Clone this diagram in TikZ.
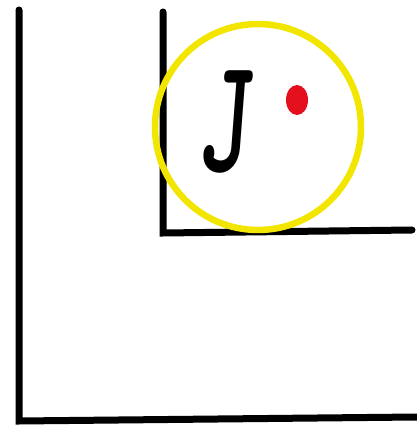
\documentclass[tikz,border=0pt]{standalone}
\usepackage{fontspec}
\usepackage{xcolor}
\usepackage{tikz}
\definecolor{ringyellow}{HTML}{F2E600}
\definecolor{dotred}{HTML}{E5101E}

\begin{document}
\begin{tikzpicture}[x=1pt, y=1pt,
  wall/.style={draw=black, line width=7pt, line cap=round, line join=miter},
  ring/.style={draw=ringyellow, line width=6.5pt},
  dot/.style={fill=dotred, draw=none}]
\useasboundingbox (0,0) rectangle (417,432);
% walls
\draw[wall] (19,422) -- (19,11) -- (417,15);
\draw[wall] (163,420) -- (163,199) -- (412,202);
% circle with letter and dot
\draw[ring] (258,305) circle (103);
\fill[dot] (297,332) ellipse (11 and 15);
\node[inner sep=0pt, xscale=0.7, yscale=1.1, xslant=0.12, transform shape] (letter) at (227,310) {\fontsize{150}{150}\selectfont\ttfamily\bfseries J};
\end{tikzpicture}
\end{document}
